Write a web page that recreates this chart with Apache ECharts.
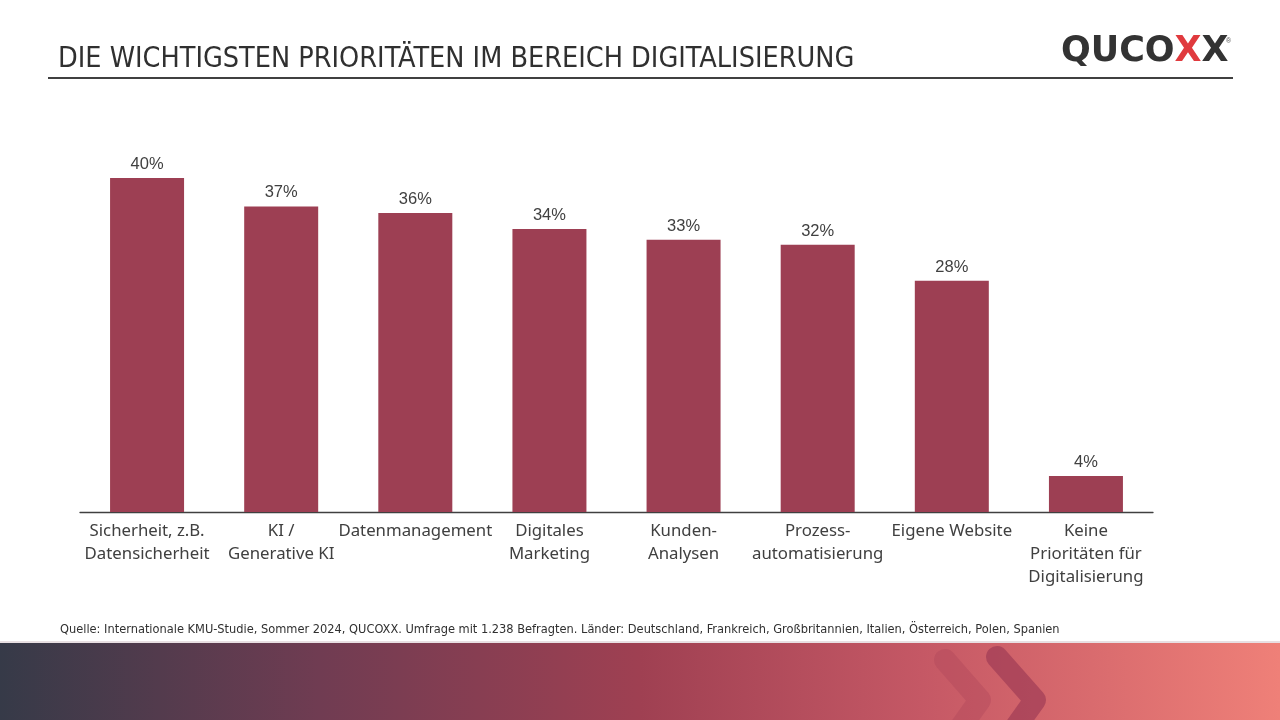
<!DOCTYPE html>
<html><head><meta charset="utf-8">
<script src="https://cdn.jsdelivr.net/npm/echarts@6/dist/echarts.min.js"></script>
<style>html,body{margin:0;padding:0;background:#fff}#c{width:1280px;height:720px}</style>
</head><body><div id="c"></div>
<script>
const categories = ["Sicherheit, z.B.\nDatensicherheit","KI /\nGenerative KI","Datenmanagement","Digitales\nMarketing","Kunden-\nAnalysen","Prozess-\nautomatisierung","Eigene Website","Keine\nPrioritäten für\nDigitalisierung"];
const values = [40,36.6,35.8,33.9,32.6,32.0,27.7,4.3];
const titleText = "DIE WICHTIGSTEN PRIORITÄTEN IM BEREICH DIGITALISIERUNG";
const sourceText = "Quelle: Internationale KMU-Studie, Sommer 2024, QUCOXX. Umfrage mit 1.238 Befragten. Länder: Deutschland, Frankreich, Großbritannien, Italien, Österreich, Polen, Spanien";

const chart = echarts.init(document.getElementById('c'), null, {renderer:'canvas'});
chart.setOption({
  backgroundColor:'#fff',
  animation:false,
  grid:{left:80,right:127,top:178,bottom:208,containLabel:false},
  xAxis:{type:'category',data:categories,
    axisLine:{lineStyle:{color:'#404040',width:1.3}},
    axisTick:{show:false},
    axisLabel:{interval:0,color:'#404040',fontFamily:'Noto Sans, sans-serif',fontSize:16.8,lineHeight:23,margin:8,verticalAlign:'top'}},
  yAxis:{type:'value',min:0,max:40,show:false,splitLine:{show:false}},
  series:[{type:'bar',data:values,barWidth:74,itemStyle:{color:'#9d3f53'},
    label:{show:true,position:'top',distance:5,formatter:p=>Math.round(p.value)+'%',color:'#404040',fontFamily:'Liberation Sans, Arial, sans-serif',fontSize:16.5}}],
  graphic:[
    {type:'text',left:58,top:45,style:{text:titleText,fontFamily:'Liberation Sans Narrow, DejaVu Sans Condensed, sans-serif',fontSize:28.5,fill:'#303030'}},
    {type:'rect',shape:{x:48,y:77,width:1185,height:2},style:{fill:'#404040'}},
    {type:'text',left:1061,top:34,style:{rich:{a:{fontFamily:'DejaVu Sans, sans-serif',fontWeight:'bold',fontSize:35,fill:'#333'},b:{fontFamily:'DejaVu Sans, sans-serif',fontWeight:'bold',fontSize:35,fill:'#e03a3e'},c:{fontFamily:'DejaVu Sans, sans-serif',fontWeight:'bold',fontSize:35,fill:'#333'}},text:'{a|QUCO}{b|X}{c|X}'}},
    {type:'text',left:1226,top:38,style:{text:'®',fontSize:7,fill:'#555'}},
    {type:'text',left:60,top:623,style:{text:sourceText,fontFamily:'Liberation Sans Narrow, DejaVu Sans Condensed, sans-serif',fontSize:12.7,fill:'#303030'}},
    {type:'rect',shape:{x:0,y:643,width:1280,height:77},style:{fill:new echarts.graphic.LinearGradient(0,0,1,0,[
      {offset:0,color:'#363a48'},{offset:0.25,color:'#703c52'},{offset:0.5,color:'#9f4052'},{offset:0.72,color:'#c55865'},{offset:1,color:'#ef8078'}])}},
    {type:'rect',shape:{x:0,y:641,width:1280,height:2},style:{fill:'#e8dfe2'}},
    {type:'polyline',shape:{points:[[945,660],[980,700],[955,735]]},style:{stroke:'rgba(175,70,90,0.4)',lineWidth:22,lineCap:'round',lineJoin:'round',fill:null}},
    {type:'polyline',shape:{points:[[997,657],[1035,700],[1010,735]]},style:{stroke:'rgba(160,60,85,0.7)',lineWidth:22,lineCap:'round',lineJoin:'round',fill:null}}
  ]
});
</script></body></html>
